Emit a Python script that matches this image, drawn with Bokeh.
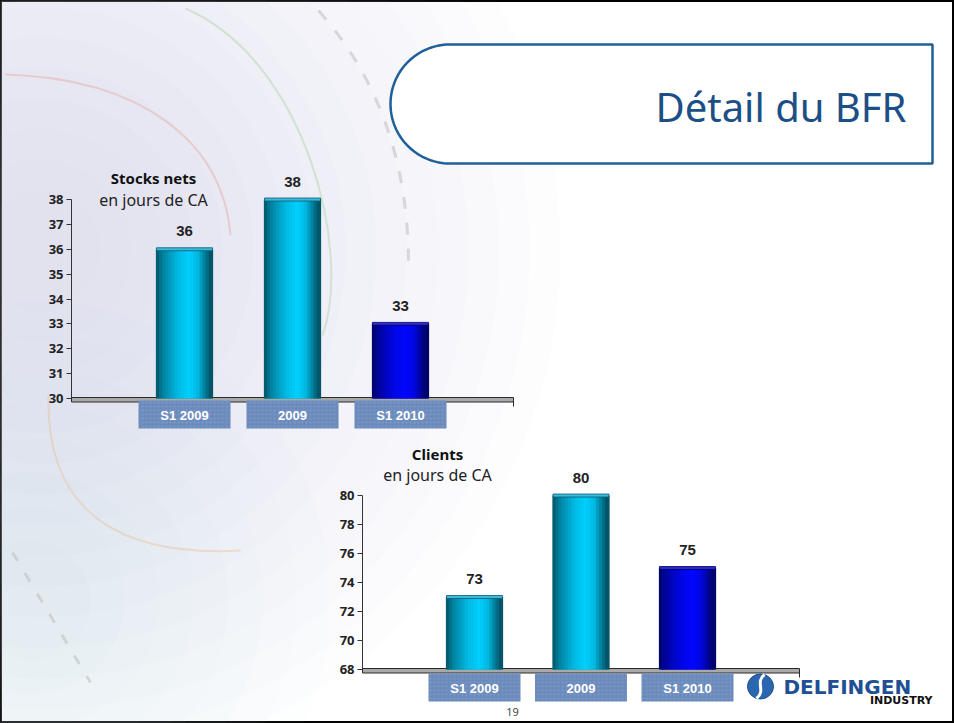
import numpy as np
from bokeh.plotting import figure
from bokeh.models import Range1d, LinearAxis, FixedTicker, ColumnDataSource
from bokeh.transform import dodge
from bokeh.core.properties import value, field
from bokeh.embed import file_html
from bokeh.resources import INLINE

# ---------------- data ----------------
periods = ["S1 2009", "2009", "S1 2010"]
stocks_days = [36, 38, 33]
clients_days = [73, 80, 75]
stocks_ticks = [30, 31, 32, 33, 34, 35, 36, 37, 38]
clients_ticks = [68, 70, 72, 74, 76, 78, 80]
stocks_title = "Stocks nets"
clients_title = "Clients"
unit_label = "en jours de CA"
slide_title = "Détail du BFR"
page_number = "19"
logo_name = "DELFINGEN"
logo_sub = "INDUSTRY"

# ---------------- styles ----------------
bar_tones = ["cyan", "cyan", "blue"]
BASE = {"cyan": (0, 208, 255), "blue": (0, 8, 255)}
CAP = {"cyan": "#3ab9da", "blue": "#2a2ad0"}
CAP_LINE = {"cyan": "#0b5a73", "blue": "#000060"}

W, H = 954, 723
X0, Y0 = 0, 0

p = figure(width=W, height=H, x_range=Range1d(X0, X0 + W), y_range=Range1d(Y0 + H, Y0),
           output_backend="svg", toolbar_location=None, min_border=0,
           x_axis_location=None, y_axis_location=None)
p.grid.visible = False
p.background_fill_color = "white"
p.border_fill_color = "white"
p.outline_line_color = "black"
p.outline_line_width = 3


def lin_range(v_a, px_a, v_b, px_b, px_lo, px_hi):
    k = (v_b - v_a) / (px_b - px_a)
    return Range1d(v_a + (px_lo - px_a) * k, v_a + (px_hi - px_a) * k)


# ---------------- background decoration ----------------
for r in np.linspace(520, 60, 16):
    p.circle(x=[40], y=[250], radius=float(r), fill_color="#c2d5ea", fill_alpha=0.038,
             line_color=None)
for r in np.linspace(300, 60, 8):
    p.circle(x=[30], y=[600], radius=float(r), fill_color="#cfdeee", fill_alpha=0.03,
             line_color=None)

# faint swirl arcs
p.bezier(x0=[5], y0=[74], x1=[230], y1=[235], cx0=[140], cy0=[78], cx1=[222], cy1=[140],
         line_color="#e2a9a0", line_alpha=0.45, line_width=2)
p.bezier(x0=[48], y0=[395], x1=[240], y1=[550], cx0=[45], cy0=[520], cx1=[130], cy1=[556],
         line_color="#e6c0a0", line_alpha=0.45, line_width=2)
p.bezier(x0=[185], y0=[8], x1=[322], y1=[335], cx0=[305], cy0=[60], cx1=[352], cy1=[250],
         line_color="#b5d6ad", line_alpha=0.5, line_width=2)
p.bezier(x0=[318], y0=[10], x1=[408], y1=[265], cx0=[380], cy0=[80], cx1=[408], cy1=[165],
         line_color="#bdbdbd", line_alpha=0.55, line_width=3, line_dash="12 14")
p.line(x=[12, 90], y=[552, 682], line_color="#bdbdbd", line_alpha=0.55, line_width=3,
       line_dash="10 14")

# ---------------- title box ----------------
cx, cy, rr = 449.5, 103.5, 59.5
ang = np.linspace(np.pi / 2, 3 * np.pi / 2, 60)
bx = [932] + list(cx + rr * np.cos(ang)) + [932]
by = [cy - rr] + list(cy - rr * np.sin(ang)) + [cy + rr]
p.patch(x=bx, y=by, fill_color="white", line_color="#1f5f9a", line_width=2.5)
p.text(x=[906], y=[106], text=[slide_title], text_align="right", text_baseline="middle",
       text_font=value("Noto Sans"), text_font_size="40px", text_color="#1b4f86")

# ---------------- charts ----------------
prof_t = [0.0, 0.12, 0.40, 0.60, 0.75, 0.90, 1.0]
prof_b = [0.40, 0.62, 0.90, 1.00, 0.88, 0.55, 0.36]
NSTRIP = 18


def shade(rgb, b):
    return "#%02x%02x%02x" % tuple(int(min(255, c * b)) for c in rgb)


charts = [
    dict(key="s", values=stocks_days, ticks=stocks_ticks, title=stocks_title,
         x_px=(184, 292), y_px=(398, 199), axis_x=71, floor_end=513,
         head_x=153, head_y=(177, 199), box_y=414),
    dict(key="c", values=clients_days, ticks=clients_ticks, title=clients_title,
         x_px=(474, 580.5), y_px=(669, 495), axis_x=362, floor_end=799,
         head_x=437, head_y=(453, 474), box_y=687),
]

for ch in charts:
    xr, yr = "x_" + ch["key"], "y_" + ch["key"]
    lo, hi = ch["ticks"][0], ch["ticks"][-1]
    p.extra_x_ranges[xr] = lin_range(0, ch["x_px"][0], 1, ch["x_px"][1], X0, X0 + W)
    p.extra_y_ranges[yr] = lin_range(lo, ch["y_px"][0], hi, ch["y_px"][1], Y0 + H, Y0)
    unit_px = ch["x_px"][1] - ch["x_px"][0]
    w = 56.0 / unit_px

    data = dict(x=list(range(len(periods))), top=ch["values"],
                label=[str(v) for v in ch["values"]], period=periods,
                cap=[CAP[t] for t in bar_tones], capline=[CAP_LINE[t] for t in bar_tones],
                mid=[shade(BASE[t], 0.7) for t in bar_tones])
    for i in range(NSTRIP):
        b = float(np.interp((i + 0.5) / NSTRIP, prof_t, prof_b))
        data["c%d" % i] = [shade(BASE[t], b) for t in bar_tones]
    src = ColumnDataSource(data)

    # floor of the chart
    fy = ch["y_px"][0]
    p.quad(left=[ch["axis_x"]], right=[ch["floor_end"]], top=[fy - 1], bottom=[fy + 3.5],
           fill_color="#a9a9a9", line_color="#2a2a2a", line_width=1)
    p.segment(x0=[ch["floor_end"]], y0=[fy + 3.5], x1=[ch["floor_end"]], y1=[fy + 8],
              line_color="#2a2a2a", line_width=1)

    # bars, shaded as cylinders
    p.vbar(x="x", width=w, top="top", bottom=lo, fill_color=field("mid"), line_color=None,
           source=src, x_range_name=xr, y_range_name=yr)
    for i in range(NSTRIP):
        off = -w / 2 + (i + 0.5) * w / NSTRIP
        p.vbar(x=dodge("x", off), width=w / NSTRIP * 1.4, top="top", bottom=lo,
               fill_color=field("c%d" % i), line_color=None, source=src,
               x_range_name=xr, y_range_name=yr)
    p.rect(x="x", y="top", width=w, height=3, height_units="screen",
           fill_color=field("cap"), line_color=field("capline"), line_width=0.8,
           source=src, x_range_name=xr, y_range_name=yr)

    # value labels
    p.text(x="x", y="top", text="label", source=src, x_range_name=xr, y_range_name=yr,
           y_offset=-18, text_align="center", text_baseline="middle",
           text_font=value("Liberation Sans"), text_font_style="bold",
           text_font_size="15px", text_color="#222222")

    # category boxes
    p.rect(x="x", y=ch["box_y"], width=92.0 / unit_px, height=28, source=src,
           x_range_name=xr, fill_color="#6c8bbd", line_color=None,
           hatch_pattern="dot", hatch_color="#93aad0", hatch_alpha=0.45, hatch_scale=4)
    p.text(x="x", y=ch["box_y"] + 1, text="period", source=src, x_range_name=xr,
           text_align="center", text_baseline="middle",
           text_font=value("Liberation Sans"), text_font_style="bold",
           text_font_size="13px", text_color="white")

    # headers
    p.text(x=[ch["head_x"]], y=[ch["head_y"][0]], text=[ch["title"]], text_align="center",
           text_baseline="middle", text_font=value("Noto Sans"), text_font_style="bold",
           text_font_size="15px", text_color="#111111")
    p.text(x=[ch["head_x"]], y=[ch["head_y"][1]], text=[unit_label], text_align="center",
           text_baseline="middle", text_font=value("Noto Sans"),
           text_font_size="16px", text_color="#222222")

    # value axis
    ax = LinearAxis(y_range_name=yr, fixed_location=ch["axis_x"], bounds=(lo, hi),
                    ticker=FixedTicker(ticks=ch["ticks"]),
                    major_tick_out=5, major_tick_in=0, minor_tick_out=0, minor_tick_in=0,
                    axis_line_color="#333333", major_tick_line_color="#333333",
                    major_label_text_font="Noto Sans", major_label_text_font_style="bold",
                    major_label_text_font_size="13px", major_label_text_color="#222222",
                    major_label_standoff=3)
    p.add_layout(ax, "left")

# ---------------- logo & page number ----------------
p.ellipse(x=[760], y=[686], width=26, height=25, fill_color="#2b66b0", line_color="#1a4a8a")
p.bezier(x0=[756], y0=[698], x1=[764], y1=[674], cx0=[766], cy0=[690], cx1=[754], cy1=[682],
         line_color="white", line_width=3)
p.text(x=[783], y=[686], text=[logo_name], text_align="left", text_baseline="middle",
       text_font=value("DejaVu Sans"), text_font_style="bold", text_font_size="20px",
       text_color="#1f4f94")
p.text(x=[932], y=[700], text=[logo_sub], text_align="right", text_baseline="middle",
       text_font=value("DejaVu Sans"), text_font_style="bold", text_font_size="11px",
       text_color="#111111")
p.text(x=[512], y=[711], text=[page_number], text_align="center", text_baseline="middle",
       text_font=value("Noto Sans"), text_font_size="11px", text_color="#444444")

open("out.html", "w").write(file_html(p, INLINE))
